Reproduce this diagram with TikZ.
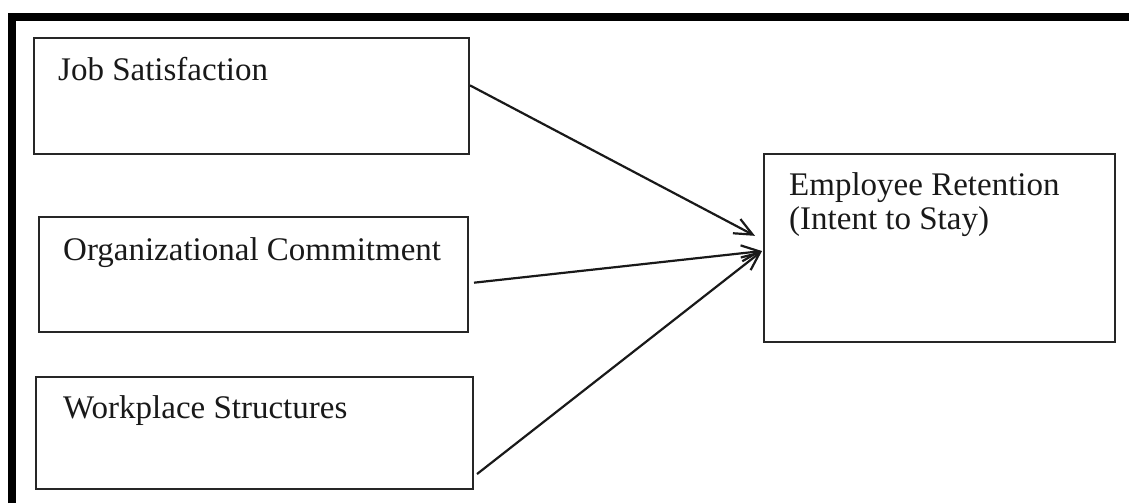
\documentclass[tikz,border=0pt]{standalone}
\usepackage{fontspec}
\setmainfont{Liberation Serif}
\usetikzlibrary{arrows.meta,calc}

\tikzset{
  box/.style={draw=black!85, line width=2pt, rectangle, anchor=north west, inner sep=0pt},
  lbl/.style={anchor=base west, inner sep=0pt, font=\fontsize{33}{35}\selectfont, text=black!90},
  link/.style={draw=black!90, line width=2.2pt, -{Straight Barb[length=18pt,width=16pt,line width=2.2pt]}},
  frame/.style={line width=8pt, draw=black}
}

\begin{document}
\begin{tikzpicture}[x=1pt,y=-1pt]
  \useasboundingbox (0,0) rectangle (1129,503);

  % outer frame (top and left edges)
  \draw[frame] (12,503) -- (12,17) -- (1129,17);

  % factor boxes
  \node[box, minimum width=435pt, minimum height=116pt] (js) at (33,37) {};
  \node[lbl] (jst) at (58,80) {Job Satisfaction};

  \node[box, minimum width=429pt, minimum height=115pt] (oc) at (38,216) {};
  \node[lbl] (oct) at (63,260) {Organizational Commitment};

  \node[box, minimum width=437pt, minimum height=112pt] (ws) at (35,376) {};
  \node[lbl] (wst) at (63,418) {Workplace Structures};

  % outcome box
  \node[box, minimum width=351pt, minimum height=188pt] (er) at (763,153) {};
  \node[lbl] (ert1) at (789,195) {Employee Retention};
  \node[lbl] (ert2) at (789,229) {(Intent to Stay)};

  % connector end points on the box edges
  \coordinate (jsout) at ($(js.north east)!0.41!(js.south east)$);
  \coordinate (ocout) at ($(oc.north east)!0.57!(oc.south east)+(5,0)$);
  \coordinate (wsout) at ($(ws.north east)!0.86!(ws.south east)+(3,0)$);
  \coordinate (erin1) at ($(er.north west)!0.436!(er.south west)+(-8,0)$);
  \coordinate (erin2) at ($(er.north west)!0.516!(er.south west)+(-1,0)$);

  % influences
  \draw[link] (jsout) -- (erin1);
  \draw[link] (ocout) -- (erin2);
  \draw[link] (wsout) -- (erin2);
\end{tikzpicture}
\end{document}
